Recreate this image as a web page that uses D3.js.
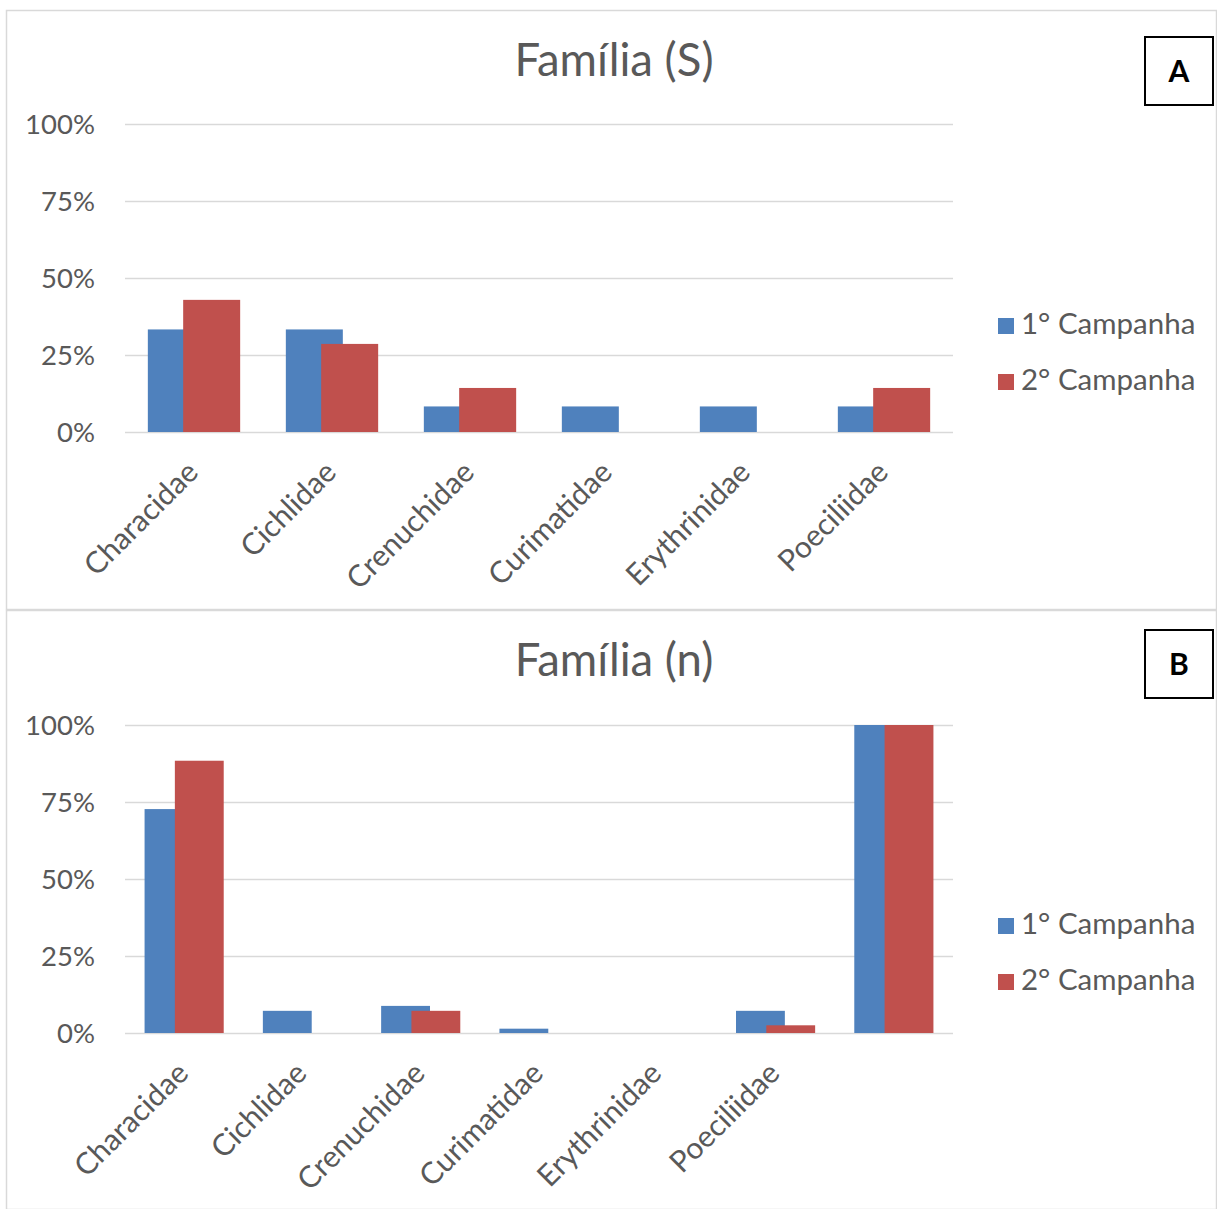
<!DOCTYPE html>
<html>
<head>
<meta charset="utf-8">
<script src="https://cdn.jsdelivr.net/npm/d3@7"></script>
<style>
  body { margin: 0; background: #fff; }
  text { font-family: Lato, "Open Sans", sans-serif; }
</style>
</head>
<body>
<svg id="chart" width="1217" height="1209"></svg>
<script>
// data (percent)
var familias = ["Characidae", "Cichlidae", "Crenuchidae", "Curimatidae", "Erythrinidae", "Poeciliidae"];
var familiasN = ["Characidae", "Cichlidae", "Crenuchidae", "Curimatidae", "Erythrinidae", "Poeciliidae", ""];
var campanha1S = [33.3, 33.3, 8.3, 8.3, 8.3, 8.3];
var campanha2S = [42.9, 28.6, 14.3, 0, 0, 14.3];
var campanha1N = [72.7, 7.2, 8.8, 1.4, 0, 7.2, 100];
var campanha2N = [88.4, 0, 7.2, 0, 0, 2.5, 100];
var yTicks = [0, 25, 50, 75, 100];
var seriesNames = ["1° Campanha", "2° Campanha"];
var colors = ["#4f81bd", "#c0504d"];

var svg = d3.select("#chart");

function drawPanel(opt) {
  var g = svg.append("g").attr("transform", "translate(0," + opt.top + ")");

  g.append("rect").attr("x", 6.5).attr("y", 0.5).attr("width", 1210).attr("height", 599)
    .attr("fill", "#fff").attr("stroke", "#d9d9d9").attr("stroke-width", 1.5);

  var x = d3.scaleBand().domain(d3.range(opt.cats.length)).range([125, 953]).padding(0);
  var y = d3.scaleLinear().domain([0, 100]).range([opt.axisY, opt.axisY - 308]);

  // grid + y labels
  var yAxis = d3.axisLeft(y).tickValues(yTicks).tickSize(-(953 - 125)).tickPadding(30)
    .tickFormat(function(d) { return d + "%"; });
  var ya = g.append("g").attr("transform", "translate(125,0)").call(yAxis);
  ya.select(".domain").remove();
  ya.selectAll("line").attr("stroke", "#d9d9d9").attr("stroke-width", 1.5);
  ya.selectAll("text").attr("fill", "#595959").attr("font-size", 27.5).attr("dy", "0.36em");

  var step = x.step();
  var barW = step * 0.413;
  var off = barW * 0.62;
  var groupW = barW + off;

  [opt.s1, opt.s2].forEach(function(vals, si) {
    g.selectAll(".bar" + si).data(vals).enter().append("rect")
      .attr("x", function(d, i) { return x(i) + step / 2 - groupW / 2 + si * off; })
      .attr("y", function(d) { return y(d); })
      .attr("width", barW)
      .attr("height", function(d) { return y(0) - y(d); })
      .attr("fill", colors[si]);
  });

  // category labels
  g.selectAll(".cat").data(opt.cats).enter().append("text")
    .attr("transform", function(d, i) {
      return "translate(" + (x(i) + step / 2 + 6) + "," + (opt.axisY + 42) + ") rotate(-45)";
    })
    .attr("text-anchor", "end")
    .attr("fill", "#595959").attr("font-size", 30)
    .text(function(d) { return d; });

  // title
  g.append("text").attr("x", 614).attr("y", 66).attr("text-anchor", "middle")
    .attr("fill", "#595959").attr("font-size", 45.5).text(opt.title);

  // legend
  seriesNames.forEach(function(s, i) {
    g.append("rect").attr("x", 998).attr("y", 308 + i * 56).attr("width", 16).attr("height", 16)
      .attr("fill", colors[i]);
    g.append("text").attr("x", 1021).attr("y", 324 + i * 56).attr("fill", "#595959")
      .attr("font-size", 29.5).text(s);
  });

  // panel letter box
  g.append("rect").attr("x", 1145).attr("y", opt.boxY).attr("width", 68).attr("height", 68)
    .attr("fill", "#fff").attr("stroke", "#000").attr("stroke-width", 2);
  g.append("text").attr("x", 1179).attr("y", opt.boxY + 34).attr("dy", "0.36em")
    .attr("text-anchor", "middle").attr("font-weight", "bold").attr("font-size", 30)
    .attr("fill", "#000").text(opt.letter);
}

drawPanel({ top: 10, axisY: 422, cats: familias, s1: campanha1S, s2: campanha2S, title: "Família (S)", letter: "A", boxY: 27 });
drawPanel({ top: 610, axisY: 423, cats: familiasN, s1: campanha1N, s2: campanha2N, title: "Família (n)", letter: "B", boxY: 20 });
</script>
</body>
</html>
